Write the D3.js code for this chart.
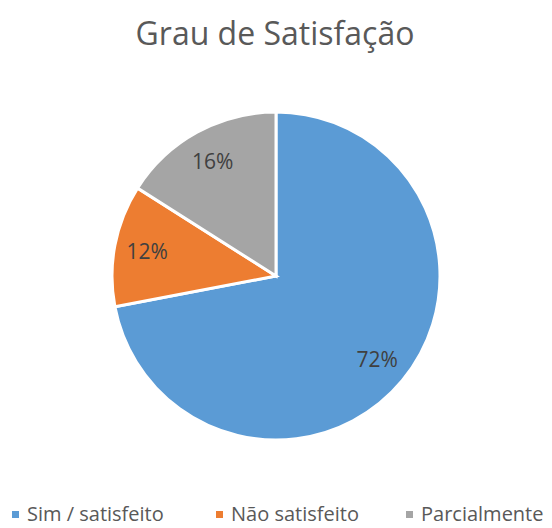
<!DOCTYPE html>
<html>
<head>
<meta charset="utf-8">
<script src="https://cdn.jsdelivr.net/npm/d3@7"></script>
<style>
  body { margin: 0; background: #fff; }
  svg { display: block; font-family: "Open Sans", sans-serif; }
</style>
</head>
<body>
<div id="chart"></div>
<script>
const categories = ["Sim / satisfeito", "Não satisfeito", "Parcialmente"];
const values = [72, 12, 16];
const colors = ["#5b9bd5", "#ed7d31", "#a5a5a5"];

const width = 552, height = 528;
const cx = 276, cy = 276, radius = 164;

const svg = d3.select("#chart").append("svg")
    .attr("width", width)
    .attr("height", height);

svg.append("text")
    .attr("x", 275)
    .attr("y", 45)
    .attr("text-anchor", "middle")
    .attr("fill", "#595959")
    .style("font-size", "32px")
    .text("Grau de Satisfação");

const data = categories.map((c, i) => ({ name: c, value: values[i], color: colors[i] }));
const pie = d3.pie().sort(null).value(d => d.value);
const arc = d3.arc().innerRadius(0).outerRadius(radius);
const labelArc = d3.arc().innerRadius(radius * 0.8).outerRadius(radius * 0.8);
const total = d3.sum(values);

const g = svg.append("g").attr("transform", `translate(${cx},${cy})`);
const arcs = pie(data);

g.selectAll("path")
    .data(arcs)
    .join("path")
    .attr("d", arc)
    .attr("fill", d => d.data.color)
    .attr("stroke", "#fff")
    .attr("stroke-width", 3);

g.selectAll("text")
    .data(arcs)
    .join("text")
    .attr("transform", d => `translate(${labelArc.centroid(d)})`)
    .attr("text-anchor", "middle")
    .attr("dy", "0.36em")
    .attr("fill", "#404040")
    .style("font-size", "21px")
    .text(d => Math.round(d.data.value / total * 100) + "%");

// legend (kept a little above the bottom edge so descenders fit)
const legendX = [12, 216, 406];
const legend = svg.append("g").attr("transform", "translate(0,514)");
const item = legend.selectAll("g")
    .data(data)
    .join("g")
    .attr("transform", (d, i) => `translate(${legendX[i]},0)`);
item.append("rect")
    .attr("x", 0)
    .attr("y", -3)
    .attr("width", 7)
    .attr("height", 7)
    .attr("fill", d => d.color);
item.append("text")
    .attr("x", 15)
    .attr("y", 7)
    .attr("fill", "#595959")
    .style("font-size", "20px")
    .text(d => d.name);
</script>
</body>
</html>
